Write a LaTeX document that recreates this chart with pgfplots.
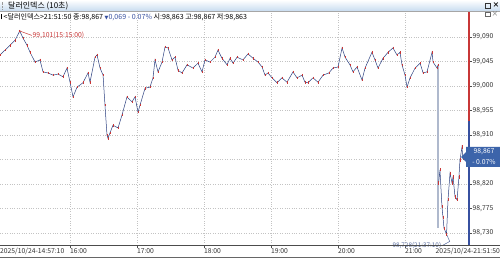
\documentclass[border=0pt]{standalone}
\usepackage{pgfplots}
\usepackage{pgfplotstable}
\pgfplotsset{compat=1.18}
\usepackage{fontspec}
\setmainfont{Noto Sans CJK KR}
\newfontfamily\sym{DejaVu Sans}
\definecolor{upred}{RGB}{200,55,55}
\definecolor{dnblue}{RGB}{55,80,160}
\definecolor{boxblue}{RGB}{60,100,170}
\definecolor{gridc}{RGB}{195,195,195}
\definecolor{hdr}{RGB}{200,220,240}
\definecolor{annblue}{RGB}{90,110,160}
\definecolor{gapgray}{RGB}{175,185,205}

\pgfplotstableread{
m v
-2.8 99.057
1.8 99.066
6.3 99.075
10.7 99.084
15.0 99.101
17.9 99.088
21.5 99.075
24.2 99.062
28.7 99.044
33.1 99.048
35.8 99.026
40.3 99.024
44.8 99.020
49.3 99.022
53.7 99.017
57.3 99.033
60.0 99.007
62.7 98.980
66.3 98.998
71.6 99.006
76.1 99.024
77.9 99.007
82.4 99.053
84.2 99.057
86.9 99.033
89.6 99.020
91.3 98.965
93.1 98.910
94.0 98.904
95.8 98.914
98.5 98.928
103.0 98.923
106.6 98.947
111.0 98.980
115.5 98.971
118.2 98.980
120.9 98.952
122.7 98.965
127.2 98.996
131.6 98.998
134.3 99.015
136.1 99.048
138.8 99.026
142.4 99.044
145.1 99.072
147.8 99.070
151.3 99.048
154.0 99.053
156.7 99.029
160.3 99.024
164.8 99.039
170.1 99.033
174.6 99.042
178.2 99.026
180.9 99.048
185.4 99.044
189.8 99.053
192.5 99.066
196.1 99.051
200.6 99.039
203.3 99.051
206.0 99.042
209.6 99.053
214.9 99.048
219.4 99.059
223.9 99.051
228.4 99.044
232.0 99.035
234.6 99.020
237.3 99.024
240.9 99.015
245.4 99.006
249.8 99.015
254.3 99.007
259.7 99.026
263.3 99.015
267.8 99.020
270.4 99.007
273.1 99.006
277.6 99.015
282.1 99.007
286.6 99.020
291.8 99.024
295.5 99.033
300.0 99.035
303.6 99.070
306.3 99.053
310.7 99.039
313.4 99.026
317.0 99.035
321.5 99.011
324.2 99.033
330.4 99.062
333.1 99.048
335.8 99.033
340.3 99.051
344.8 99.062
349.2 99.070
352.8 99.057
355.5 99.062
357.3 99.039
360.0 99.020
361.8 98.998
364.5 99.015
369.0 99.033
373.5 99.042
376.2 99.024
379.7 99.026
384.2 99.062
385.1 99.044
388.7 99.033
389.6 99.039
}\pre

\pgfplotstableread{
m v
390.1 98.822
391.3 98.846
393.1 98.778
394.0 98.759
394.9 98.739
397.2 98.728
398.5 98.791
400.3 98.840
402.1 98.822
403.0 98.833
404.8 98.796
406.6 98.791
408.3 98.833
409.2 98.864
411.0 98.888
411.8 98.867
}\post

\begin{document}
\begin{tikzpicture}[font=\fontsize{6.8}{8}\selectfont]
\path[use as bounding box] (0,-13bp) rectangle (500bp,245bp);
\fill[white] (0,-13bp) rectangle (500bp,245bp);
\begin{axis}[
  at={(0,0)}, anchor=south west, scale only axis,
  width=469bp, height=233bp,
  xmin=-2.7, xmax=417.3, ymin=8, ymax=436,
  axis line style={draw=none},
  grid=major, major grid style={gridc, dotted},
  xtick={60,120,180,240,300,360},
  xticklabels={16:00,17:00,18:00,19:00,20:00,21:00},
  xtick pos=bottom, ytick pos=right,
  tick align=outside, major tick length=3bp,
  tick style={black!70},
  xticklabel style={anchor=north west, xshift=-0.5bp, inner sep=0.3bp, text=black!80},
  ytick={30,75,120,165,210,255,300,345,390},
  yticklabels={98{,}730,98{,}775,98{,}820,,98{,}910,98{,}955,99{,}000,99{,}045,99{,}090},
  yticklabel style={anchor=west, inner sep=1bp, xshift=-0.5bp, text=black!80},
  /pgf/number format/assume math mode=true,
  clip=false,
]
\addplot[gapgray, line width=1.8bp] coordinates {(389.6,336) (389.6,39)};
\addplot[dnblue!80!black, line width=0.5bp] table[x=m,y expr={(\thisrow{v}-98.7)*1000}] {\pre};
\addplot[upred, only marks, mark=|, mark size=1.3bp, mark options={line width=0.6bp}] table[x=m,y expr={(\thisrow{v}-98.7)*1000}] {\pre};
\addplot[dnblue!80!black, line width=0.5bp] table[x=m,y expr={(\thisrow{v}-98.7)*1000}] {\post};
\addplot[upred, only marks, mark=|, mark size=1.6bp, mark options={line width=0.6bp}] table[x=m,y expr={(\thisrow{v}-98.7)*1000}] {\post};
\draw[upred, line width=0.5bp] (axis cs:15,401) -- ++(9bp,0) node[anchor=west, inner sep=0.5bp, text=upred] {99,101(15:15:00)};
\fill[upred] (axis cs:15,401) circle (0.9bp);
\draw[annblue, line width=0.5bp] (axis cs:397.2,28) -- ++(0,-3bp) -- ++(-11bp,0) node[anchor=east, inner sep=0.4bp, text=annblue, font=\fontsize{6.4}{7}\selectfont] {98,728(21:37:10)};
\end{axis}
% header
\shade[top color=white, bottom color=hdr] (0,234bp) rectangle (500bp,245bp);
\draw[black!35] (0,234bp) -- (500bp,234bp);
\draw[black!40, densely dotted] (2bp,236bp) -- (2bp,243bp);
\node[anchor=west, inner sep=0, font=\fontsize{8}{9}\selectfont] at (8bp,239.5bp) {달러인덱스 (10초)};
\draw[black!80, line width=0.5bp] (485bp,237bp) rectangle (490bp,242bp);
\node[inner sep=0] at (496bp,239.5bp) {\textbf{×}};
% sub icons
\draw[black!60, line width=0.4bp] (485bp,229bp) rectangle (490bp,233bp);
\node[inner sep=0, text=black!60] at (495bp,231bp) {×};
% info line
\node[anchor=west, inner sep=0, font=\fontsize{7.1}{8}\selectfont] at (1bp,228bp) {\rule{1.2bp}{5bp}\,{<}달러인덱스{>}21:51:50 종:98,867 \textcolor{dnblue}{{\sym\fontsize{5}{6}\selectfont ▼}0,069 - 0.07\%} 시:98,863 고:98,867 저:98,863};
% right spine
\draw[dnblue, line width=1.4bp] (469bp,0) -- (469bp,124.2bp);
\draw[upred, line width=1.4bp] (469bp,124.2bp) -- (469bp,233bp);
% bottom lines
\draw[black!70, line width=0.6bp] (0,0) -- (500bp,0);
\draw[black!60, line width=0.6bp] (0,-12.6bp) -- (500bp,-12.6bp);
\node[anchor=west, inner sep=0, text=black!80] at (0,-6.5bp) {2025/10/24-14:57:10};
\node[anchor=east, inner sep=0, fill=white, text=black!80] at (500bp,-6.5bp) {2025/10/24-21:51:50};
% price box
\fill[boxblue] (461bp,88bp) -- (466bp,93bp) -- (466bp,98bp) -- (500bp,98bp) -- (500bp,78bp) -- (466bp,78bp) -- (466bp,83bp) -- cycle;
\node[text=white, inner sep=0] at (484bp,93bp) {98,867};
\node[text=white, inner sep=0] at (484bp,83bp) {- 0.07\%};
\end{tikzpicture}
\end{document}
